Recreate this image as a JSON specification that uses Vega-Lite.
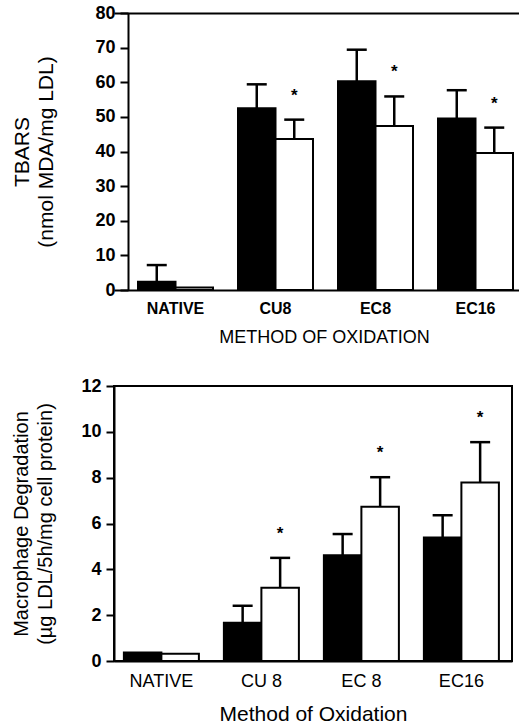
{
  "$schema": "https://vega.github.io/schema/vega-lite/v6.json",
  "padding": {"left": 10, "top": 4, "right": 0, "bottom": 0},
  "spacing": 30,
  "datasets": {
    "tbars": [
      {"method": "NATIVE", "group": "1", "value": 2.4, "hi": 7.2, "sig": false},
      {"method": "NATIVE", "group": "2", "value": 0.7, "hi": null, "sig": false},
      {"method": "CU8", "group": "1", "value": 52.5, "hi": 59.4, "sig": false},
      {"method": "CU8", "group": "2", "value": 43.6, "hi": 49.2, "sig": true},
      {"method": "EC8", "group": "1", "value": 60.3, "hi": 69.4, "sig": false},
      {"method": "EC8", "group": "2", "value": 47.4, "hi": 55.9, "sig": true},
      {"method": "EC16", "group": "1", "value": 49.5, "hi": 57.7, "sig": false},
      {"method": "EC16", "group": "2", "value": 39.6, "hi": 46.9, "sig": true}
    ],
    "degradation": [
      {"method": "NATIVE", "group": "1", "value": 0.37, "hi": null, "sig": false},
      {"method": "NATIVE", "group": "2", "value": 0.32, "hi": null, "sig": false},
      {"method": "CU 8", "group": "1", "value": 1.67, "hi": 2.41, "sig": false},
      {"method": "CU 8", "group": "2", "value": 3.2, "hi": 4.5, "sig": true},
      {"method": "EC 8", "group": "1", "value": 4.62, "hi": 5.54, "sig": false},
      {"method": "EC 8", "group": "2", "value": 6.73, "hi": 8.02, "sig": true},
      {"method": "EC16", "group": "1", "value": 5.39, "hi": 6.36, "sig": false},
      {"method": "EC16", "group": "2", "value": 7.79, "hi": 9.55, "sig": true}
    ]
  },
  "vconcat": [
    {
      "width": 407,
      "height": 277,
      "view": {"stroke": null},
      "data": {"name": "tbars"},
      "layer": [
        {
          "mark": {"type": "bar", "stroke": "black", "strokeWidth": 2},
          "encoding": {
            "x": {
              "field": "method",
              "type": "nominal",
              "sort": null,
              "scale": {"paddingInner": 0.25, "paddingOuter": 0.16, "align": 0.75},
              "axis": {
                "title": "METHOD OF OXIDATION",
                "labelFontWeight": "bold",
                "labelFontSize": 16,
                "labelPadding": 10,
                "titleFontSize": 18,
                "titlePadding": 12,
                "titleX": 210
              }
            },
            "xOffset": {"field": "group", "type": "nominal", "scale": {"paddingInner": 0, "paddingOuter": 0}},
            "y": {
              "field": "value",
              "type": "quantitative",
              "scale": {"domain": [0, 80]},
              "axis": {
                "title": ["TBARS", "(nmol MDA/mg LDL)"],
                "values": [0, 10, 20, 30, 40, 50, 60, 70, 80],
                "offset": -14,
                "labelFontWeight": "bold",
                "labelFontSize": 18,
                "labelPadding": 5,
                "titleFontSize": 21,
                "titleLineHeight": 24,
                "titlePadding": 38
              }
            },
            "fill": {
              "field": "group",
              "type": "nominal",
              "scale": {"domain": ["1", "2"], "range": ["black", "white"]},
              "legend": null
            }
          }
        },
        {
          "transform": [{"filter": "isValid(datum.hi)"}],
          "mark": {"type": "rule", "color": "black", "strokeWidth": 2.5},
          "encoding": {
            "x": {
              "field": "method",
              "type": "nominal",
              "sort": null,
              "axis": {"orient": "top", "labels": false, "ticks": false, "title": null, "domain": true}
            },
            "xOffset": {"field": "group", "type": "nominal"},
            "y": {
              "field": "value",
              "type": "quantitative",
              "axis": {
                "title": ["TBARS", "(nmol MDA/mg LDL)"],
                "values": [0, 10, 20, 30, 40, 50, 60, 70, 80],
                "offset": -14,
                "labelFontWeight": "bold",
                "labelFontSize": 18,
                "labelPadding": 5,
                "titleFontSize": 21,
                "titleLineHeight": 24,
                "titlePadding": 38
              }
            },
            "y2": {"field": "hi"}
          }
        },
        {
          "transform": [{"filter": "isValid(datum.hi)"}],
          "mark": {"type": "tick", "color": "black", "size": 20, "thickness": 2.5, "orient": "horizontal", "opacity": 1},
          "encoding": {
            "x": {"field": "method", "type": "nominal", "sort": null, "axis": null},
            "xOffset": {"field": "group", "type": "nominal"},
            "y": {
              "field": "hi",
              "type": "quantitative",
              "axis": {
                "title": ["TBARS", "(nmol MDA/mg LDL)"],
                "values": [0, 10, 20, 30, 40, 50, 60, 70, 80],
                "offset": -14,
                "labelFontWeight": "bold",
                "labelFontSize": 18,
                "labelPadding": 5,
                "titleFontSize": 21,
                "titleLineHeight": 24,
                "titlePadding": 38
              }
            }
          }
        },
        {
          "transform": [{"filter": "datum.sig"}],
          "mark": {"type": "text", "text": "*", "fontSize": 17, "fontWeight": "bold", "dy": -24, "baseline": "middle"},
          "encoding": {
            "x": {"field": "method", "type": "nominal", "sort": null, "axis": null},
            "xOffset": {"field": "group", "type": "nominal"},
            "y": {
              "field": "hi",
              "type": "quantitative",
              "axis": {
                "title": ["TBARS", "(nmol MDA/mg LDL)"],
                "values": [0, 10, 20, 30, 40, 50, 60, 70, 80],
                "offset": -14,
                "labelFontWeight": "bold",
                "labelFontSize": 18,
                "labelPadding": 5,
                "titleFontSize": 21,
                "titleLineHeight": 24,
                "titlePadding": 38
              }
            }
          }
        }
      ],
      "resolve": {"axis": {"x": "independent"}}
    },
    {
      "width": 398,
      "height": 275,
      "view": {"stroke": "black", "strokeWidth": 2},
      "data": {"name": "degradation"},
      "layer": [
        {
          "mark": {"type": "bar", "stroke": "black", "strokeWidth": 2},
          "encoding": {
            "x": {
              "field": "method",
              "type": "nominal",
              "sort": null,
              "scale": {"paddingInner": 0.25, "paddingOuter": 0.115, "align": 0.43},
              "axis": {"title": "Method of Oxidation", "labelFontSize": 18, "labelPadding": 11, "titleFontSize": 21, "titlePadding": 13}
            },
            "xOffset": {"field": "group", "type": "nominal", "scale": {"paddingInner": 0, "paddingOuter": 0}},
            "y": {
              "field": "value",
              "type": "quantitative",
              "scale": {"domain": [0, 12]},
              "axis": {
                "title": ["Macrophage Degradation", "(µg LDL/5h/mg cell protein)"],
                "values": [0, 2, 4, 6, 8, 10, 12],
                "labelFontWeight": "bold",
                "labelFontSize": 18,
                "labelPadding": 5,
                "titleFontSize": 20,
                "titleLineHeight": 24,
                "titlePadding": 25
              }
            },
            "fill": {
              "field": "group",
              "type": "nominal",
              "scale": {"domain": ["1", "2"], "range": ["black", "white"]},
              "legend": null
            }
          }
        },
        {
          "transform": [{"filter": "isValid(datum.hi)"}],
          "mark": {"type": "rule", "color": "black", "strokeWidth": 2.5},
          "encoding": {
            "x": {
              "field": "method",
              "type": "nominal",
              "sort": null,
              "axis": {"title": "Method of Oxidation", "labelFontSize": 18, "labelPadding": 11, "titleFontSize": 21, "titlePadding": 13}
            },
            "xOffset": {"field": "group", "type": "nominal"},
            "y": {
              "field": "value",
              "type": "quantitative",
              "axis": {
                "title": ["Macrophage Degradation", "(µg LDL/5h/mg cell protein)"],
                "values": [0, 2, 4, 6, 8, 10, 12],
                "labelFontWeight": "bold",
                "labelFontSize": 18,
                "labelPadding": 5,
                "titleFontSize": 20,
                "titleLineHeight": 24,
                "titlePadding": 25
              }
            },
            "y2": {"field": "hi"}
          }
        },
        {
          "transform": [{"filter": "isValid(datum.hi)"}],
          "mark": {"type": "tick", "color": "black", "size": 20, "thickness": 2.5, "orient": "horizontal", "opacity": 1},
          "encoding": {
            "x": {
              "field": "method",
              "type": "nominal",
              "sort": null,
              "axis": {"title": "Method of Oxidation", "labelFontSize": 18, "labelPadding": 11, "titleFontSize": 21, "titlePadding": 13}
            },
            "xOffset": {"field": "group", "type": "nominal"},
            "y": {
              "field": "hi",
              "type": "quantitative",
              "axis": {
                "title": ["Macrophage Degradation", "(µg LDL/5h/mg cell protein)"],
                "values": [0, 2, 4, 6, 8, 10, 12],
                "labelFontWeight": "bold",
                "labelFontSize": 18,
                "labelPadding": 5,
                "titleFontSize": 20,
                "titleLineHeight": 24,
                "titlePadding": 25
              }
            }
          }
        },
        {
          "transform": [{"filter": "datum.sig"}],
          "mark": {"type": "text", "text": "*", "fontSize": 17, "fontWeight": "bold", "dy": -24, "baseline": "middle"},
          "encoding": {
            "x": {
              "field": "method",
              "type": "nominal",
              "sort": null,
              "axis": {"title": "Method of Oxidation", "labelFontSize": 18, "labelPadding": 11, "titleFontSize": 21, "titlePadding": 13}
            },
            "xOffset": {"field": "group", "type": "nominal"},
            "y": {
              "field": "hi",
              "type": "quantitative",
              "axis": {
                "title": ["Macrophage Degradation", "(µg LDL/5h/mg cell protein)"],
                "values": [0, 2, 4, 6, 8, 10, 12],
                "labelFontWeight": "bold",
                "labelFontSize": 18,
                "labelPadding": 5,
                "titleFontSize": 20,
                "titleLineHeight": 24,
                "titlePadding": 25
              }
            }
          }
        }
      ]
    }
  ],
  "resolve": {"scale": {"x": "independent", "y": "independent", "xOffset": "independent"}},
  "config": {
    "font": "Liberation Sans",
    "axis": {
      "grid": false,
      "domainColor": "black",
      "domainWidth": 2,
      "tickColor": "black",
      "tickWidth": 2,
      "tickSize": 8,
      "labelColor": "black",
      "titleColor": "black",
      "titleFontWeight": "normal",
      "labelFont": "Liberation Sans",
      "titleFont": "Liberation Sans"
    },
    "axisX": {"ticks": false, "labelAngle": 0}
  }
}
